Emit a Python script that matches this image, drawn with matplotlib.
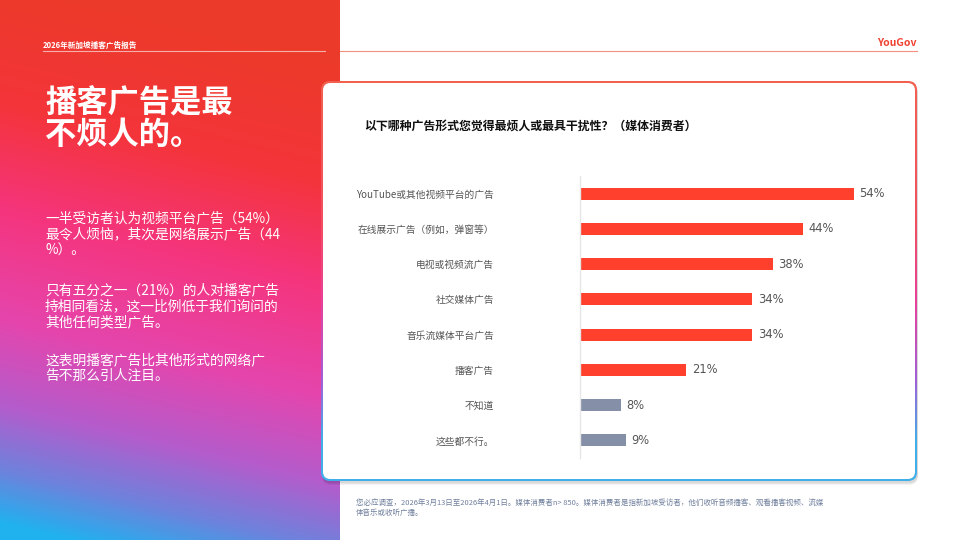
import numpy as np
import matplotlib
matplotlib.use("Agg")
import matplotlib.pyplot as plt
from matplotlib.colors import LinearSegmentedColormap
from matplotlib.patches import FancyBboxPatch

plt.rcParams['font.family'] = ['Noto Sans CJK SC', 'DejaVu Sans']

# data
categories = ["YouTube或其他视频平台的广告", "在线展示广告（例如，弹窗等）", "电视或视频流广告",
              "社交媒体广告", "音乐流媒体平台广告", "播客广告", "不知道", "这些都不行。"]
values = [54, 44, 38, 34, 34, 21, 8, 9]
is_other = [False, False, False, False, False, False, True, True]

report_name = "2026年新加坡播客广告报告"
headline = "播客广告是最\n不烦人的。"
paragraphs = ["一半受访者认为视频平台广告（54%）\n最令人烦恼，其次是网络展示广告（44\n%）。",
              "只有五分之一（21%）的人对播客广告\n持相同看法，这一比例低于我们询问的\n其他任何类型广告。",
              "这表明播客广告比其他形式的网络广\n告不那么引人注目。"]
chart_title = "以下哪种广告形式您觉得最烦人或最具干扰性？（媒体消费者）"
footnote = ("您必应调查，2026年3月13日至2026年4月1日。媒体消费者n> 850。媒体消费者是指新加坡受访者，他们收听音频播客、观看播客视频、流媒\n"
            "体音乐或收听广播。")

RED = "#fe402c"
GREY = "#8590a8"

fig = plt.figure(figsize=(9.6, 5.4), dpi=100)

# background layer in pixel coords
bg = fig.add_axes([0, 0, 1, 1], zorder=0)
bg.set_xlim(0, 960)
bg.set_ylim(540, 0)
bg.axis("off")

# left gradient panel
panel_cmap = LinearSegmentedColormap.from_list("panel", [
    (0.0, "#ec3a2a"), (0.22, "#f4343a"), (0.42, "#f5357e"),
    (0.62, "#e545ad"), (0.78, "#b45ccc"), (0.9, "#6e82dc"), (1.0, "#1fb2ef")])
yy, xx = np.mgrid[0:540, 0:340]
t = np.clip(yy / 540 - 0.15 * (xx / 340) + 0.03, 0, 1)
bg.imshow(t, cmap=panel_cmap, extent=(0, 340, 540, 0), aspect="auto", zorder=0, vmin=0, vmax=1)

# header
bg.text(43, 45, report_name, color="white", fontsize=5.5, fontweight="bold", va="center", zorder=3)
bg.plot([43, 325], [51, 51], color="white", alpha=0.6, lw=0.8, zorder=3)
bg.plot([340, 917], [51, 51], color="#f39080", lw=0.8, zorder=3)
bg.text(917, 43, "YouGov", color="#f04030", fontsize=7.5, fontweight="bold", ha="right", va="center", zorder=3)

# headline and body
bg.text(45, 87, headline, color="white", fontsize=22.5, fontweight="bold", va="top",
        linespacing=1.0, zorder=3)
para_tops = [211, 283, 353]
for top, txt in zip(para_tops, paragraphs):
    bg.text(45, top, txt, color="white", fontsize=9.9, va="top", linespacing=1.2, zorder=3)

# card with shadow and gradient border
x0, y0, x1, y1 = 321, 81, 917, 481
for i in range(3):
    sh = FancyBboxPatch((x0 + 1, y0 + 2 + i), x1 - x0, y1 - y0,
                        boxstyle="round,pad=0,rounding_size=9", fc="black", ec="none",
                        alpha=0.05, zorder=1)
    bg.add_patch(sh)
outer = FancyBboxPatch((x0, y0), x1 - x0, y1 - y0, boxstyle="round,pad=0,rounding_size=9",
                       fc="none", ec="none", zorder=2)
bg.add_patch(outer)
border_cmap = LinearSegmentedColormap.from_list("border", [
    (0.0, "#f2604f"), (0.35, "#f25060"), (0.55, "#e8409a"),
    (0.75, "#a060d8"), (0.9, "#40aee8"), (1.0, "#40aee8")])
grad = np.linspace(0, 1, 400).reshape(-1, 1)
im = bg.imshow(grad, cmap=border_cmap, extent=(x0, x1, y1, y0), aspect="auto", zorder=2)
im.set_clip_path(outer)
inner = FancyBboxPatch((x0 + 2, y0 + 2), x1 - x0 - 4, y1 - y0 - 4,
                       boxstyle="round,pad=0,rounding_size=7.5", fc="white", ec="none", zorder=2.5)
bg.add_patch(inner)

bg.text(364, 126, chart_title, color="#111111", fontsize=8.6, fontweight="bold", va="center", zorder=3)
bg.text(356, 499, footnote, color="#6f7f9c", fontsize=5.4, va="top", linespacing=1.3, zorder=3)

# bar chart
ax = fig.add_axes([580 / 960, 1 - 458 / 540, 300 / 960, 282 / 540], zorder=5)
ax.patch.set_alpha(0)
pos = np.arange(len(categories))
colors = [GREY if o else RED for o in is_other]
ax.barh(pos, values, height=0.34, color=colors)
ax.set_xlim(0, 300 / 5.07)
ax.set_ylim(len(categories) - 0.5, -0.5)
for p, v in zip(pos, values):
    ax.text(v + 1.1, p, f"{v}%", va="center", ha="left", fontsize=8.3, color="#555555",
            family=["DejaVu Sans"])
ax.set_yticks(pos)
ax.set_yticklabels(categories, fontsize=7, color="#555555")
ax.tick_params(axis="y", length=0, pad=62)
ax.set_xticks([])
for s in ["top", "right", "bottom"]:
    ax.spines[s].set_visible(False)
ax.spines["left"].set_color("#e6e6e6")
ax.spines["left"].set_linewidth(1)

fig.savefig("out.png", dpi=100)
